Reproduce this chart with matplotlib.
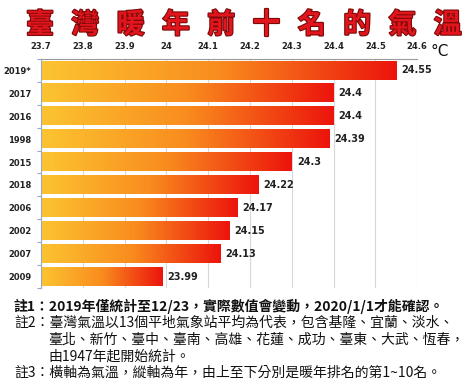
import matplotlib
matplotlib.use("Agg")
import matplotlib.pyplot as plt
import matplotlib.patheffects as pe
import numpy as np
from matplotlib.colors import LinearSegmentedColormap

plt.rcParams['font.family'] = ['Noto Sans CJK TC', 'DejaVu Sans']

# Data: top to bottom
years = ["2019*", "2017", "2016", "1998", "2015", "2018", "2006", "2002", "2007", "2009"]
temps = [24.55, 24.4, 24.4, 24.39, 24.3, 24.22, 24.17, 24.15, 24.13, 23.99]
x_ticks = [23.7, 23.8, 23.9, 24.0, 24.1, 24.2, 24.3, 24.4, 24.5, 24.6]

title = "臺灣暖年前十名的氣溫"
notes = [
    ("註1：2019年僅統計至12/23，實際數值會變動，2020/1/1才能確認。", True, False),
    ("註2：臺灣氣溫以13個平地氣象站平均為代表，包含基隆、宜蘭、淡水、", False, False),
    ("臺北、新竹、臺中、臺南、高雄、花蓮、成功、臺東、大武、恆春，", False, True),
    ("由1947年起開始統計。", False, True),
    ("註3：橫軸為氣溫，縱軸為年，由上至下分別是暖年排名的第1~10名。", False, False),
]

fig = plt.figure(figsize=(4.74, 3.83), dpi=100)
ax = fig.add_axes([0.0865, 0.248, 0.7935, 0.598])

grad = LinearSegmentedColormap.from_list("g", ["#fcc431", "#f98c1e", "#ec140c"])
g = np.linspace(0, 1, 256).reshape(1, -1)

x0 = x_ticks[0]
h = 0.8
for i, (yr, t) in enumerate(zip(years, temps)):
    ax.imshow(g, cmap=grad, aspect='auto', extent=[x0, t, i + h / 2, i - h / 2],
              interpolation='bicubic', zorder=2)
    ax.text(t + 0.012, i, f"{t:g}", va='center', ha='left', fontsize=7,
            fontweight='bold', color='#222222', family='DejaVu Sans')

ax.set_xlim(x_ticks[0], x_ticks[-1])
ax.set_ylim(len(years) - 0.5, -0.5)
ax.xaxis.tick_top()
ax.set_xticks(x_ticks)
ax.set_xticklabels([f"{v:g}" for v in x_ticks], fontsize=6, fontweight='bold',
                   family='DejaVu Sans', color='#222222')
ax.tick_params(axis='x', length=0, pad=6)
ax.set_yticks(range(len(years)))
ax.set_yticklabels(years, fontsize=6, fontweight='bold', family='DejaVu Sans',
                   color='#222222')
ax.set_yticks(np.arange(-0.5, len(years), 1), minor=True)
ax.tick_params(axis='y', which='major', length=0, pad=7)
ax.tick_params(axis='y', which='minor', length=3, color='#9aa8c0', width=0.8)
ax.grid(axis='x', color='#d8d8d8', linewidth=0.8, zorder=0)
ax.set_axisbelow(True)
for s in ['right', 'bottom']:
    ax.spines[s].set_visible(False)
ax.spines['top'].set_color('#9a9a9a')
ax.spines['left'].set_color('#9aa8c0')

fig.text(0.908, 0.866, "°C", fontsize=11, color='#111111', ha='left', va='center',
         family='DejaVu Sans')

# Title
for k, ch in enumerate(title):
    fig.text((40 + k * 45.3) / 474, 1 - 33 / 383, ch, fontsize=20, fontweight='bold',
             color='#e2141c', ha='center', va='baseline',
             path_effects=[pe.withStroke(linewidth=1.6, foreground='#7a0a0a')])

# Notes
ys = [306, 323, 340, 357, 373]
for (txt, bold, indent), y in zip(notes, ys):
    fig.text((48 if indent else 14) / 474, 1 - y / 383, txt, fontsize=10,
             fontweight='bold' if bold else 'normal', color='#111111',
             ha='left', va='center')

fig.savefig("out.png", dpi=100)
